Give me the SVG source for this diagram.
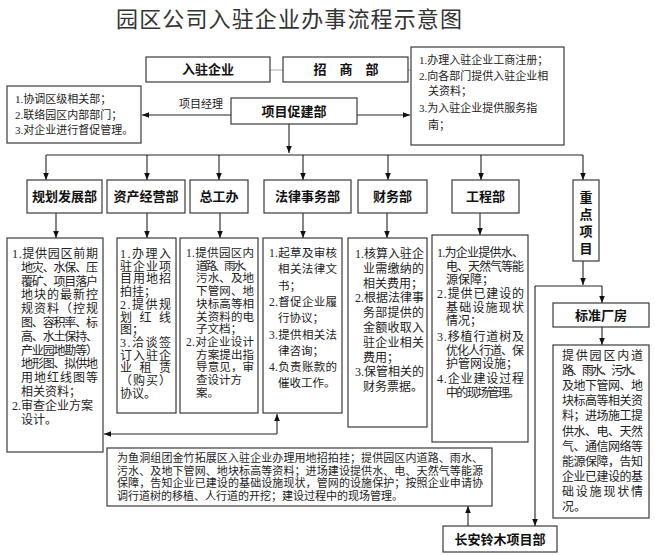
<svg xmlns="http://www.w3.org/2000/svg" width="655" height="555" viewBox="0 0 655 555">
<style>
.bx{fill:#fff;stroke:#3a3a3a;stroke-width:1.2}
.hd{font-family:"Liberation Sans","Noto Sans CJK SC",sans-serif;font-size:13px;font-weight:bold;fill:#111;text-anchor:middle;dominant-baseline:central}
.tx{font-family:"Liberation Serif","Noto Sans CJK SC",serif;font-size:12px;fill:#222;dominant-baseline:central}
.s11{font-size:11px}
.s115{font-size:11.5px}
.ln{fill:none;stroke:#222;stroke-width:1.1}
.fl{fill:none;stroke:#aaa;stroke-width:1}
.ttl{font-family:"Noto Sans CJK SC","Noto Sans",sans-serif;font-size:22px;fill:#333;text-anchor:middle;dominant-baseline:central}
</style>
<defs>
<marker id="ah" viewBox="0 0 10 10" refX="10" refY="5" markerWidth="7" markerHeight="7" orient="auto" markerUnits="userSpaceOnUse"><path d="M0,1 L10,5 L0,9 z" fill="#111"/></marker>
</defs>
<rect width="655" height="555" fill="#fff"/>
<text class="ttl" x="289" y="17" textLength="346" lengthAdjust="spacing">园区公司入驻企业办事流程示意图</text>

<g id="connectors">
<path class="fl" d="M270,70 H283"/>
<path class="fl" d="M408,70 H411"/>
<path class="ln" d="M231,115 H142" marker-end="url(#ah)"/>
<path class="ln" d="M357,115 H410" marker-end="url(#ah)"/>
<path class="ln" d="M289,124 V153" marker-end="url(#ah)"/>
<path class="ln" d="M46,155 H583"/>
<path class="ln" d="M46,155 V180" marker-end="url(#ah)"/>
<path class="ln" d="M147,155 V180" marker-end="url(#ah)"/>
<path class="ln" d="M219,155 V180" marker-end="url(#ah)"/>
<path class="ln" d="M303,155 V180" marker-end="url(#ah)"/>
<path class="ln" d="M388,155 V180" marker-end="url(#ah)"/>
<path class="ln" d="M481,155 V180" marker-end="url(#ah)"/>
<path class="ln" d="M583,155 V180" marker-end="url(#ah)"/>
<path class="ln" d="M56,213 V238" marker-end="url(#ah)"/>
<path class="ln" d="M147,213 V238" marker-end="url(#ah)"/>
<path class="ln" d="M220,213 V238" marker-end="url(#ah)"/>
<path class="ln" d="M303,213 V238" marker-end="url(#ah)"/>
<path class="ln" d="M387,213 V238" marker-end="url(#ah)"/>
<path class="ln" d="M480,213 V235" marker-end="url(#ah)"/>
<path class="ln" d="M583,261 V285" marker-end="url(#ah)"/>
<path class="ln" d="M535,286 H602"/>
<path class="ln" d="M602,286 V303" marker-end="url(#ah)"/>
<path class="ln" d="M602,327 V345" marker-end="url(#ah)"/>
<path class="ln" d="M535,286 V526" marker-end="url(#ah)"/>
<path class="ln" d="M468,526 V506" marker-end="url(#ah)"/>
<path class="ln" d="M277,434 H104" marker-end="url(#ah)"/>
<path class="ln" d="M277,434 V414" marker-end="url(#ah)"/>
</g>

<g id="ruzhu"><rect class="bx" x="146" y="57" width="124" height="25"/><text class="hd" x="208" y="69.5">入驻企业</text></g>
<g id="zhaoshang"><rect class="bx" x="283" y="57" width="125" height="25"/><text class="hd" x="320" y="69.5">招</text><text class="hd" x="346" y="69.5">商</text><text class="hd" x="372" y="69.5">部</text></g>
<g id="zhaoshang-info"><rect class="bx" x="411" y="47" width="153" height="98"/>
<text class="tx s11" x="419" y="60">1.办理入驻企业工商注册；</text>
<text class="tx s11" x="419" y="76">2.向各部门提供入驻企业相</text>
<text class="tx s11" x="428" y="91">关资料；</text>
<text class="tx s11" x="419" y="108">3.为入驻企业提供服务指</text>
<text class="tx s11" x="428" y="125">南；</text>
</g>
<g id="xiangmu-info"><rect class="bx" x="7" y="86" width="134" height="57"/>
<text class="tx s11" x="15" y="99">1.协调区级相关部；</text>
<text class="tx s11" x="15" y="115">2.联络园区内部部门；</text>
<text class="tx s11" x="15" y="130">3.对企业进行督促管理。</text>
</g>
<g id="cujianbu"><rect class="bx" x="231" y="98" width="126" height="26"/><text class="hd" x="294" y="111">项目促建部</text>
<text class="tx s11" x="201" y="104" text-anchor="middle">项目经理</text></g>

<g id="guihua"><rect class="bx" x="27" y="180" width="75" height="33"/><text class="hd" x="64.5" y="196.5">规划发展部</text></g>
<g id="zichan"><rect class="bx" x="107" y="180" width="78" height="33"/><text class="hd" x="146" y="196.5">资产经营部</text></g>
<g id="zonggong"><rect class="bx" x="190" y="180" width="58" height="33"/><text class="hd" x="219" y="196.5">总工办</text></g>
<g id="falv"><rect class="bx" x="264" y="180" width="87" height="33"/><text class="hd" x="307.5" y="196.5">法律事务部</text></g>
<g id="caiwu"><rect class="bx" x="358" y="180" width="69" height="33"/><text class="hd" x="392.5" y="196.5">财务部</text></g>
<g id="gongcheng"><rect class="bx" x="452" y="180" width="67" height="33"/><text class="hd" x="485.5" y="196.5">工程部</text></g>
<g id="zhongdian"><rect class="bx" x="573" y="180" width="26" height="81"/>
<text class="hd" x="586" y="197">重</text><text class="hd" x="586" y="214">点</text><text class="hd" x="586" y="231">项</text><text class="hd" x="586" y="248">目</text></g>

<g id="guihua-info"><rect class="bx" x="7" y="238" width="96" height="214"/>
<text class="tx" x="12" y="254" textLength="86" lengthAdjust="spacing">1.提供园区前期</text>
<text class="tx" x="21" y="267.8" textLength="77" lengthAdjust="spacing">地灾、水保、压</text>
<text class="tx" x="21" y="281.6" textLength="77" lengthAdjust="spacing">覆矿、项目落户</text>
<text class="tx" x="21" y="295.4" textLength="77" lengthAdjust="spacing">地块的最新控</text>
<text class="tx" x="21" y="309.2" textLength="77" lengthAdjust="spacing">规资料（控规</text>
<text class="tx" x="21" y="323" textLength="77" lengthAdjust="spacing">图、容积率、标</text>
<text class="tx" x="21" y="336.8" textLength="77" lengthAdjust="spacing">高、水土保持、</text>
<text class="tx" x="21" y="350.6" textLength="77" lengthAdjust="spacing">产业园地勘等）</text>
<text class="tx" x="21" y="364.4" textLength="77" lengthAdjust="spacing">地形图、拟供地</text>
<text class="tx" x="21" y="378.2" textLength="77" lengthAdjust="spacing">用地红线图等</text>
<text class="tx" x="21" y="392">相关资料；</text>
<text class="tx" x="12" y="405.8">2.审查企业方案</text>
<text class="tx" x="21" y="419.6">设计。</text>
</g>

<g id="zichan-info"><rect class="bx" x="117" y="238" width="59" height="175"/>
<text class="tx" x="120" y="254" textLength="51" lengthAdjust="spacing">1.办理入</text>
<text class="tx" x="120" y="266.7" textLength="51" lengthAdjust="spacing">驻企业项</text>
<text class="tx" x="120" y="279.4" textLength="51" lengthAdjust="spacing">目用地招</text>
<text class="tx" x="120" y="292.1">拍挂；</text>
<text class="tx" x="120" y="304.8" textLength="51" lengthAdjust="spacing">2.提供规</text>
<text class="tx" x="120" y="317.5" textLength="51" lengthAdjust="spacing">划红线</text>
<text class="tx" x="120" y="330.2">图；</text>
<text class="tx" x="120" y="342.9" textLength="51" lengthAdjust="spacing">3.洽谈签</text>
<text class="tx" x="120" y="355.6" textLength="51" lengthAdjust="spacing">订入驻企</text>
<text class="tx" x="120" y="368.3" textLength="51" lengthAdjust="spacing">业租赁</text>
<text class="tx" x="120" y="381" textLength="51" lengthAdjust="spacing">（购买）</text>
<text class="tx" x="120" y="393.7">协议。</text>
</g>

<g id="zonggong-info"><rect class="bx" x="180" y="238" width="78" height="175"/>
<text class="tx s115" x="186" y="253" textLength="68" lengthAdjust="spacing">1.提供园区内</text>
<text class="tx s115" x="196" y="265.7" textLength="58" lengthAdjust="spacing">道路、雨水、</text>
<text class="tx s115" x="196" y="278.4" textLength="58" lengthAdjust="spacing">污水、及地</text>
<text class="tx s115" x="196" y="291.1" textLength="58" lengthAdjust="spacing">下管网、地</text>
<text class="tx s115" x="196" y="303.8" textLength="58" lengthAdjust="spacing">块标高等相</text>
<text class="tx s115" x="196" y="316.5" textLength="58" lengthAdjust="spacing">关资料的电</text>
<text class="tx s115" x="196" y="329.2">子文档；</text>
<text class="tx s115" x="186" y="341.9" textLength="68" lengthAdjust="spacing">2.对企业设计</text>
<text class="tx s115" x="196" y="354.6" textLength="58" lengthAdjust="spacing">方案提出指</text>
<text class="tx s115" x="196" y="367.3" textLength="58" lengthAdjust="spacing">导意见，审</text>
<text class="tx s115" x="196" y="380">查设计方</text>
<text class="tx s115" x="196" y="392.7">案。</text>
</g>

<g id="falv-info"><rect class="bx" x="263" y="238" width="79" height="175"/>
<text class="tx s115" x="269" y="253" textLength="68" lengthAdjust="spacing">1.起草及审核</text>
<text class="tx s115" x="278" y="269.3" textLength="59" lengthAdjust="spacing">相关法律文</text>
<text class="tx s115" x="278" y="285.6">书；</text>
<text class="tx s115" x="269" y="301.9" textLength="68" lengthAdjust="spacing">2.督促企业履</text>
<text class="tx s115" x="278" y="318.2">行协议；</text>
<text class="tx s115" x="269" y="334.5" textLength="68" lengthAdjust="spacing">3.提供相关法</text>
<text class="tx s115" x="278" y="350.8">律咨询；</text>
<text class="tx s115" x="269" y="367.1" textLength="68" lengthAdjust="spacing">4.负责账款的</text>
<text class="tx s115" x="278" y="383.4">催收工作。</text>
</g>

<g id="caiwu-info"><rect class="bx" x="348" y="238" width="79" height="189"/>
<text class="tx" x="355" y="254" textLength="69" lengthAdjust="spacing">1.核算入驻企</text>
<text class="tx" x="363" y="268.8" textLength="61" lengthAdjust="spacing">业需缴纳的</text>
<text class="tx" x="363" y="283.6">相关费用；</text>
<text class="tx" x="355" y="298.4" textLength="69" lengthAdjust="spacing">2.根据法律事</text>
<text class="tx" x="363" y="313.2" textLength="61" lengthAdjust="spacing">务部提供的</text>
<text class="tx" x="363" y="328" textLength="61" lengthAdjust="spacing">金额收取入</text>
<text class="tx" x="363" y="342.8" textLength="61" lengthAdjust="spacing">驻企业相关</text>
<text class="tx" x="363" y="357.6">费用；</text>
<text class="tx" x="355" y="372.4" textLength="69" lengthAdjust="spacing">3.保管相关的</text>
<text class="tx" x="363" y="387.2">财务票据。</text>
</g>

<g id="gongcheng-info"><rect class="bx" x="432" y="235" width="96" height="207"/>
<text class="tx" x="437" y="253" textLength="87" lengthAdjust="spacing">1.为企业提供水、</text>
<text class="tx" x="446" y="266.5" textLength="78" lengthAdjust="spacing">电、天然气等能</text>
<text class="tx" x="446" y="280">源保障；</text>
<text class="tx" x="437" y="294" textLength="87" lengthAdjust="spacing">2.提供已建设的</text>
<text class="tx" x="446" y="307.5" textLength="78" lengthAdjust="spacing">基础设施现状</text>
<text class="tx" x="446" y="321">情况；</text>
<text class="tx" x="437" y="337" textLength="87" lengthAdjust="spacing">3.移植行道树及</text>
<text class="tx" x="446" y="350.5" textLength="78" lengthAdjust="spacing">优化人行道、保</text>
<text class="tx" x="446" y="364">护管网设施；</text>
<text class="tx" x="437" y="379" textLength="87" lengthAdjust="spacing">4.企业建设过程</text>
<text class="tx" x="446" y="393" textLength="74" lengthAdjust="spacing">中的现场管理。</text>
</g>

<g id="biaozhun"><rect class="bx" x="553" y="303" width="96" height="24"/><text class="hd" x="601" y="315">标准厂房</text></g>
<g id="biaozhun-info"><rect class="bx" x="553" y="345" width="96" height="173"/>
<text class="tx" x="562" y="356" textLength="81" lengthAdjust="spacing">提供园区内道</text>
<text class="tx" x="562" y="371.1" textLength="81" lengthAdjust="spacing">路、雨水、污水、</text>
<text class="tx" x="562" y="386.2" textLength="81" lengthAdjust="spacing">及地下管网、地</text>
<text class="tx" x="562" y="401.3" textLength="81" lengthAdjust="spacing">块标高等相关资</text>
<text class="tx" x="562" y="416.4" textLength="81" lengthAdjust="spacing">料；进场施工提</text>
<text class="tx" x="562" y="431.5" textLength="81" lengthAdjust="spacing">供水、电、天然</text>
<text class="tx" x="562" y="446.6" textLength="81" lengthAdjust="spacing">气、通信网络等</text>
<text class="tx" x="562" y="461.7" textLength="81" lengthAdjust="spacing">能源保障，告知</text>
<text class="tx" x="562" y="476.8" textLength="81" lengthAdjust="spacing">企业已建设的基</text>
<text class="tx" x="562" y="491.9" textLength="81" lengthAdjust="spacing">础设施现状情</text>
<text class="tx" x="562" y="507">况。</text>
</g>

<g id="changan-info"><rect class="bx" x="107" y="448" width="385" height="58"/>
<text class="tx s11" x="117" y="458" textLength="366" lengthAdjust="spacing">为鱼洞组团金竹拓展区入驻企业办理用地招拍挂；提供园区内道路、雨水、</text>
<text class="tx s11" x="117" y="470.5" textLength="366" lengthAdjust="spacing">污水、及地下管网、地块标高等资料；进场建设提供水、电、天然气等能源</text>
<text class="tx s11" x="117" y="483" textLength="366" lengthAdjust="spacing">保障，告知企业已建设的基础设施现状，管网的设施保护；按照企业申请协</text>
<text class="tx s11" x="117" y="495.5">调行道树的移植、人行道的开挖；建设过程中的现场管理。</text>
</g>
<g id="changan"><rect class="bx" x="443" y="526" width="114" height="26"/><text class="hd" x="500" y="539">长安铃木项目部</text></g>
</svg>
